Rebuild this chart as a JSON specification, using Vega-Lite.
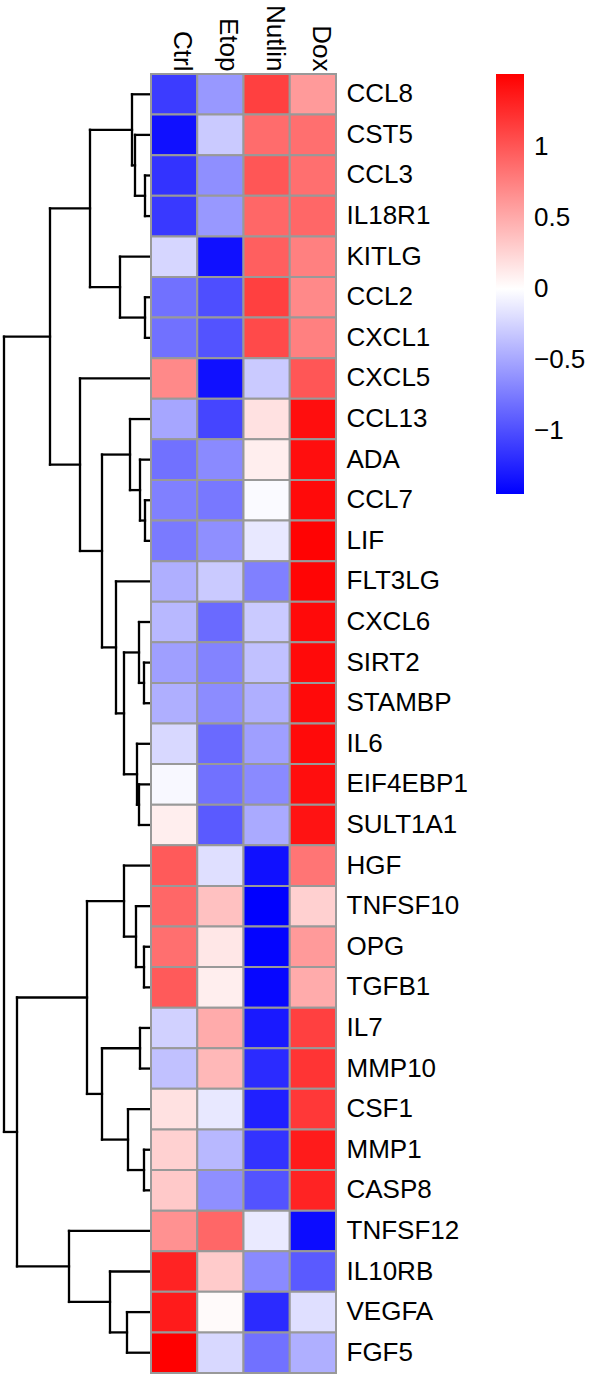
{
  "$schema": "https://vega.github.io/schema/vega-lite/v6.json",
  "padding": {"left": 2, "top": 4, "right": 0, "bottom": 0},
  "background": "white",
  "spacing": 0,
  "bounds": "flush",
  "config": {"view": {"stroke": null}, "font": "Liberation Sans"},
  "datasets": {
    "heat": [
      {"gene": "CCL8", "Ctrl": -1.1, "Etop": -0.58, "Nutlin": 1.13, "Dox": 0.6},
      {"gene": "CST5", "Ctrl": -1.35, "Etop": -0.3, "Nutlin": 0.87, "Dox": 0.85},
      {"gene": "CCL3", "Ctrl": -1.15, "Etop": -0.63, "Nutlin": 1.0, "Dox": 0.85},
      {"gene": "IL18R1", "Ctrl": -1.12, "Etop": -0.58, "Nutlin": 0.9, "Dox": 0.9},
      {"gene": "KITLG", "Ctrl": -0.23, "Etop": -1.35, "Nutlin": 0.95, "Dox": 0.75},
      {"gene": "CCL2", "Ctrl": -0.8, "Etop": -1.0, "Nutlin": 1.13, "Dox": 0.7},
      {"gene": "CXCL1", "Ctrl": -0.8, "Etop": -0.97, "Nutlin": 1.07, "Dox": 0.75},
      {"gene": "CXCL5", "Ctrl": 0.7, "Etop": -1.35, "Nutlin": -0.3, "Dox": 1.0},
      {"gene": "CCL13", "Ctrl": -0.5, "Etop": -1.05, "Nutlin": 0.18, "Dox": 1.43},
      {"gene": "ADA", "Ctrl": -0.8, "Etop": -0.66, "Nutlin": 0.1, "Dox": 1.43},
      {"gene": "CCL7", "Ctrl": -0.72, "Etop": -0.76, "Nutlin": -0.03, "Dox": 1.45},
      {"gene": "LIF", "Ctrl": -0.75, "Etop": -0.63, "Nutlin": -0.13, "Dox": 1.49},
      {"gene": "FLT3LG", "Ctrl": -0.45, "Etop": -0.3, "Nutlin": -0.72, "Dox": 1.48},
      {"gene": "CXCL6", "Ctrl": -0.4, "Etop": -0.84, "Nutlin": -0.3, "Dox": 1.45},
      {"gene": "SIRT2", "Ctrl": -0.54, "Etop": -0.7, "Nutlin": -0.35, "Dox": 1.45},
      {"gene": "STAMBP", "Ctrl": -0.45, "Etop": -0.65, "Nutlin": -0.45, "Dox": 1.45},
      {"gene": "IL6", "Ctrl": -0.22, "Etop": -0.84, "Nutlin": -0.54, "Dox": 1.45},
      {"gene": "EIF4EBP1", "Ctrl": -0.04, "Etop": -0.8, "Nutlin": -0.66, "Dox": 1.43},
      {"gene": "SULT1A1", "Ctrl": 0.1, "Etop": -0.93, "Nutlin": -0.48, "Dox": 1.4},
      {"gene": "HGF", "Ctrl": 0.98, "Etop": -0.18, "Nutlin": -1.35, "Dox": 0.82},
      {"gene": "TNFSF10", "Ctrl": 0.9, "Etop": 0.37, "Nutlin": -1.44, "Dox": 0.28},
      {"gene": "OPG", "Ctrl": 0.85, "Etop": 0.14, "Nutlin": -1.42, "Dox": 0.6},
      {"gene": "TGFB1", "Ctrl": 0.98, "Etop": 0.1, "Nutlin": -1.4, "Dox": 0.5},
      {"gene": "IL7", "Ctrl": -0.26, "Etop": 0.5, "Nutlin": -1.3, "Dox": 1.13},
      {"gene": "MMP10", "Ctrl": -0.35, "Etop": 0.42, "Nutlin": -1.2, "Dox": 1.2},
      {"gene": "CSF1", "Ctrl": 0.18, "Etop": -0.13, "Nutlin": -1.26, "Dox": 1.18},
      {"gene": "MMP1", "Ctrl": 0.27, "Etop": -0.4, "Nutlin": -1.15, "Dox": 1.35},
      {"gene": "CASP8", "Ctrl": 0.32, "Etop": -0.63, "Nutlin": -0.97, "Dox": 1.3},
      {"gene": "TNFSF12", "Ctrl": 0.65, "Etop": 0.9, "Nutlin": -0.12, "Dox": -1.37},
      {"gene": "IL10RB", "Ctrl": 1.3, "Etop": 0.31, "Nutlin": -0.66, "Dox": -0.93},
      {"gene": "VEGFA", "Ctrl": 1.35, "Etop": 0.03, "Nutlin": -1.2, "Dox": -0.18},
      {"gene": "FGF5", "Ctrl": 1.51, "Etop": -0.22, "Nutlin": -0.8, "Dox": -0.45}
    ],
    "dendro": [
      {"h1": 0.6, "h2": 0.6, "r1": 3, "r2": 4}, {"h1": 0, "h2": 0.6, "r1": 3, "r2": 3}, {"h1": 0, "h2": 0.6, "r1": 4, "r2": 4},
      {"h1": 1.6, "h2": 1.6, "r1": 2, "r2": 3.5}, {"h1": 0, "h2": 1.6, "r1": 2, "r2": 2}, {"h1": 0.6, "h2": 1.6, "r1": 3.5, "r2": 3.5},
      {"h1": 1.9, "h2": 1.9, "r1": 1, "r2": 2.75}, {"h1": 0, "h2": 1.9, "r1": 1, "r2": 1}, {"h1": 1.6, "h2": 1.9, "r1": 2.75, "r2": 2.75},
      {"h1": 0.6, "h2": 0.6, "r1": 6, "r2": 7}, {"h1": 0, "h2": 0.6, "r1": 6, "r2": 6}, {"h1": 0, "h2": 0.6, "r1": 7, "r2": 7},
      {"h1": 3.1, "h2": 3.1, "r1": 5, "r2": 6.5}, {"h1": 0, "h2": 3.1, "r1": 5, "r2": 5}, {"h1": 0.6, "h2": 3.1, "r1": 6.5, "r2": 6.5},
      {"h1": 6.1, "h2": 6.1, "r1": 1.875, "r2": 5.75}, {"h1": 1.9, "h2": 6.1, "r1": 1.875, "r2": 1.875}, {"h1": 3.1, "h2": 6.1, "r1": 5.75, "r2": 5.75},
      {"h1": 0.6, "h2": 0.6, "r1": 11, "r2": 12}, {"h1": 0, "h2": 0.6, "r1": 11, "r2": 11}, {"h1": 0, "h2": 0.6, "r1": 12, "r2": 12},
      {"h1": 1.1, "h2": 1.1, "r1": 10, "r2": 11.5}, {"h1": 0, "h2": 1.1, "r1": 10, "r2": 10}, {"h1": 0.6, "h2": 1.1, "r1": 11.5, "r2": 11.5},
      {"h1": 2.1, "h2": 2.1, "r1": 9, "r2": 10.75}, {"h1": 0, "h2": 2.1, "r1": 9, "r2": 9}, {"h1": 1.1, "h2": 2.1, "r1": 10.75, "r2": 10.75},
      {"h1": 0.7, "h2": 0.7, "r1": 15, "r2": 16}, {"h1": 0, "h2": 0.7, "r1": 15, "r2": 15}, {"h1": 0, "h2": 0.7, "r1": 16, "r2": 16},
      {"h1": 1.2, "h2": 1.2, "r1": 14, "r2": 15.5}, {"h1": 0, "h2": 1.2, "r1": 14, "r2": 14}, {"h1": 0.7, "h2": 1.2, "r1": 15.5, "r2": 15.5},
      {"h1": 1.2, "h2": 1.2, "r1": 18, "r2": 19}, {"h1": 0, "h2": 1.2, "r1": 18, "r2": 18}, {"h1": 0, "h2": 1.2, "r1": 19, "r2": 19},
      {"h1": 1.4, "h2": 1.4, "r1": 17, "r2": 18.5}, {"h1": 0, "h2": 1.4, "r1": 17, "r2": 17}, {"h1": 1.2, "h2": 1.4, "r1": 18.5, "r2": 18.5},
      {"h1": 2.7, "h2": 2.7, "r1": 14.75, "r2": 17.75}, {"h1": 1.2, "h2": 2.7, "r1": 14.75, "r2": 14.75}, {"h1": 1.4, "h2": 2.7, "r1": 17.75, "r2": 17.75},
      {"h1": 3.5, "h2": 3.5, "r1": 13, "r2": 16.25}, {"h1": 0, "h2": 3.5, "r1": 13, "r2": 13}, {"h1": 2.7, "h2": 3.5, "r1": 16.25, "r2": 16.25},
      {"h1": 4.9, "h2": 4.9, "r1": 9.875, "r2": 14.625}, {"h1": 2.1, "h2": 4.9, "r1": 9.875, "r2": 9.875}, {"h1": 3.5, "h2": 4.9, "r1": 14.625, "r2": 14.625},
      {"h1": 7.1, "h2": 7.1, "r1": 8, "r2": 12.25}, {"h1": 0, "h2": 7.1, "r1": 8, "r2": 8}, {"h1": 4.9, "h2": 7.1, "r1": 12.25, "r2": 12.25},
      {"h1": 10.1, "h2": 10.1, "r1": 3.8125, "r2": 10.125}, {"h1": 6.1, "h2": 10.1, "r1": 3.8125, "r2": 3.8125}, {"h1": 7.1, "h2": 10.1, "r1": 10.125, "r2": 10.125},
      {"h1": 0.7, "h2": 0.7, "r1": 22, "r2": 23}, {"h1": 0, "h2": 0.7, "r1": 22, "r2": 22}, {"h1": 0, "h2": 0.7, "r1": 23, "r2": 23},
      {"h1": 1.5, "h2": 1.5, "r1": 21, "r2": 22.5}, {"h1": 0, "h2": 1.5, "r1": 21, "r2": 21}, {"h1": 0.7, "h2": 1.5, "r1": 22.5, "r2": 22.5},
      {"h1": 2.7, "h2": 2.7, "r1": 20, "r2": 21.75}, {"h1": 0, "h2": 2.7, "r1": 20, "r2": 20}, {"h1": 1.5, "h2": 2.7, "r1": 21.75, "r2": 21.75},
      {"h1": 1.1, "h2": 1.1, "r1": 24, "r2": 25}, {"h1": 0, "h2": 1.1, "r1": 24, "r2": 24}, {"h1": 0, "h2": 1.1, "r1": 25, "r2": 25},
      {"h1": 0.7, "h2": 0.7, "r1": 27, "r2": 28}, {"h1": 0, "h2": 0.7, "r1": 27, "r2": 27}, {"h1": 0, "h2": 0.7, "r1": 28, "r2": 28},
      {"h1": 2.3, "h2": 2.3, "r1": 26, "r2": 27.5}, {"h1": 0, "h2": 2.3, "r1": 26, "r2": 26}, {"h1": 0.7, "h2": 2.3, "r1": 27.5, "r2": 27.5},
      {"h1": 4.9, "h2": 4.9, "r1": 24.5, "r2": 26.75}, {"h1": 1.1, "h2": 4.9, "r1": 24.5, "r2": 24.5}, {"h1": 2.3, "h2": 4.9, "r1": 26.75, "r2": 26.75},
      {"h1": 6.4, "h2": 6.4, "r1": 20.875, "r2": 25.625}, {"h1": 2.7, "h2": 6.4, "r1": 20.875, "r2": 20.875}, {"h1": 4.9, "h2": 6.4, "r1": 25.625, "r2": 25.625},
      {"h1": 2.4, "h2": 2.4, "r1": 31, "r2": 32}, {"h1": 0, "h2": 2.4, "r1": 31, "r2": 31}, {"h1": 0, "h2": 2.4, "r1": 32, "r2": 32},
      {"h1": 4.1, "h2": 4.1, "r1": 30, "r2": 31.5}, {"h1": 0, "h2": 4.1, "r1": 30, "r2": 30}, {"h1": 2.4, "h2": 4.1, "r1": 31.5, "r2": 31.5},
      {"h1": 8.2, "h2": 8.2, "r1": 29, "r2": 30.75}, {"h1": 0, "h2": 8.2, "r1": 29, "r2": 29}, {"h1": 4.1, "h2": 8.2, "r1": 30.75, "r2": 30.75},
      {"h1": 13.4, "h2": 13.4, "r1": 23.25, "r2": 29.875}, {"h1": 6.4, "h2": 13.4, "r1": 23.25, "r2": 23.25}, {"h1": 8.2, "h2": 13.4, "r1": 29.875, "r2": 29.875},
      {"h1": 14.7, "h2": 14.7, "r1": 6.96875, "r2": 26.5625}, {"h1": 10.1, "h2": 14.7, "r1": 6.96875, "r2": 6.96875}, {"h1": 13.4, "h2": 14.7, "r1": 26.5625, "r2": 26.5625}
    ]
  },
  "hconcat": [
    {
      "width": 147,
      "height": 1299,
      "data": {"name": "dendro"},
      "mark": {"type": "rule", "color": "black", "strokeWidth": 2.3, "strokeCap": "square"},
      "encoding": {
        "x": {"field": "h1", "type": "quantitative", "scale": {"domain": [0, 14.7], "reverse": true, "nice": false, "zero": false}, "axis": null},
        "x2": {"field": "h2"},
        "y": {"field": "r1", "type": "quantitative", "scale": {"domain": [0.5, 32.5], "reverse": true, "nice": false, "zero": false}, "axis": null},
        "y2": {"field": "r2"}
      }
    },
    {
      "width": 185,
      "height": 1299,
      "data": {"name": "heat"},
      "transform": [{"fold": ["Ctrl", "Etop", "Nutlin", "Dox"], "as": ["cond", "value"]}],
      "mark": {"type": "rect", "stroke": "#999999", "strokeWidth": 2},
      "encoding": {
        "x": {
          "field": "cond", "type": "nominal", "sort": ["Ctrl", "Etop", "Nutlin", "Dox"],
          "scale": {"paddingInner": 0, "paddingOuter": 0},
          "axis": {"orient": "top", "title": null, "labelAngle": 90, "labelAlign": "right", "labelBaseline": "alphabetic", "ticks": false, "domain": false, "labelPadding": 3, "labelFontSize": 26, "labelColor": "black"}
        },
        "y": {
          "field": "gene", "type": "nominal",
          "sort": ["CCL8","CST5","CCL3","IL18R1","KITLG","CCL2","CXCL1","CXCL5","CCL13","ADA","CCL7","LIF","FLT3LG","CXCL6","SIRT2","STAMBP","IL6","EIF4EBP1","SULT1A1","HGF","TNFSF10","OPG","TGFB1","IL7","MMP10","CSF1","MMP1","CASP8","TNFSF12","IL10RB","VEGFA","FGF5"],
          "scale": {"paddingInner": 0, "paddingOuter": 0},
          "axis": {"orient": "right", "title": null, "ticks": false, "domain": false, "labelPadding": 10, "labelFontSize": 26, "labelColor": "black"}
        },
        "color": {
          "field": "value", "type": "quantitative",
          "scale": {"domain": [-1.44, 0, 1.51], "range": ["#0000FF", "#FFFFFF", "#FF0000"], "interpolate": "rgb"},
          "legend": {"orient": "none", "legendX": 492, "legendY": 0, "title": null, "direction": "vertical", "gradientLength": 420, "gradientThickness": 28, "gradientStrokeWidth": 0, "labelFontSize": 26, "labelOffset": 10, "labelColor": "black", "values": [-1, -0.5, 0, 0.5, 1], "format": "~g"}
        }
      }
    }
  ]
}
